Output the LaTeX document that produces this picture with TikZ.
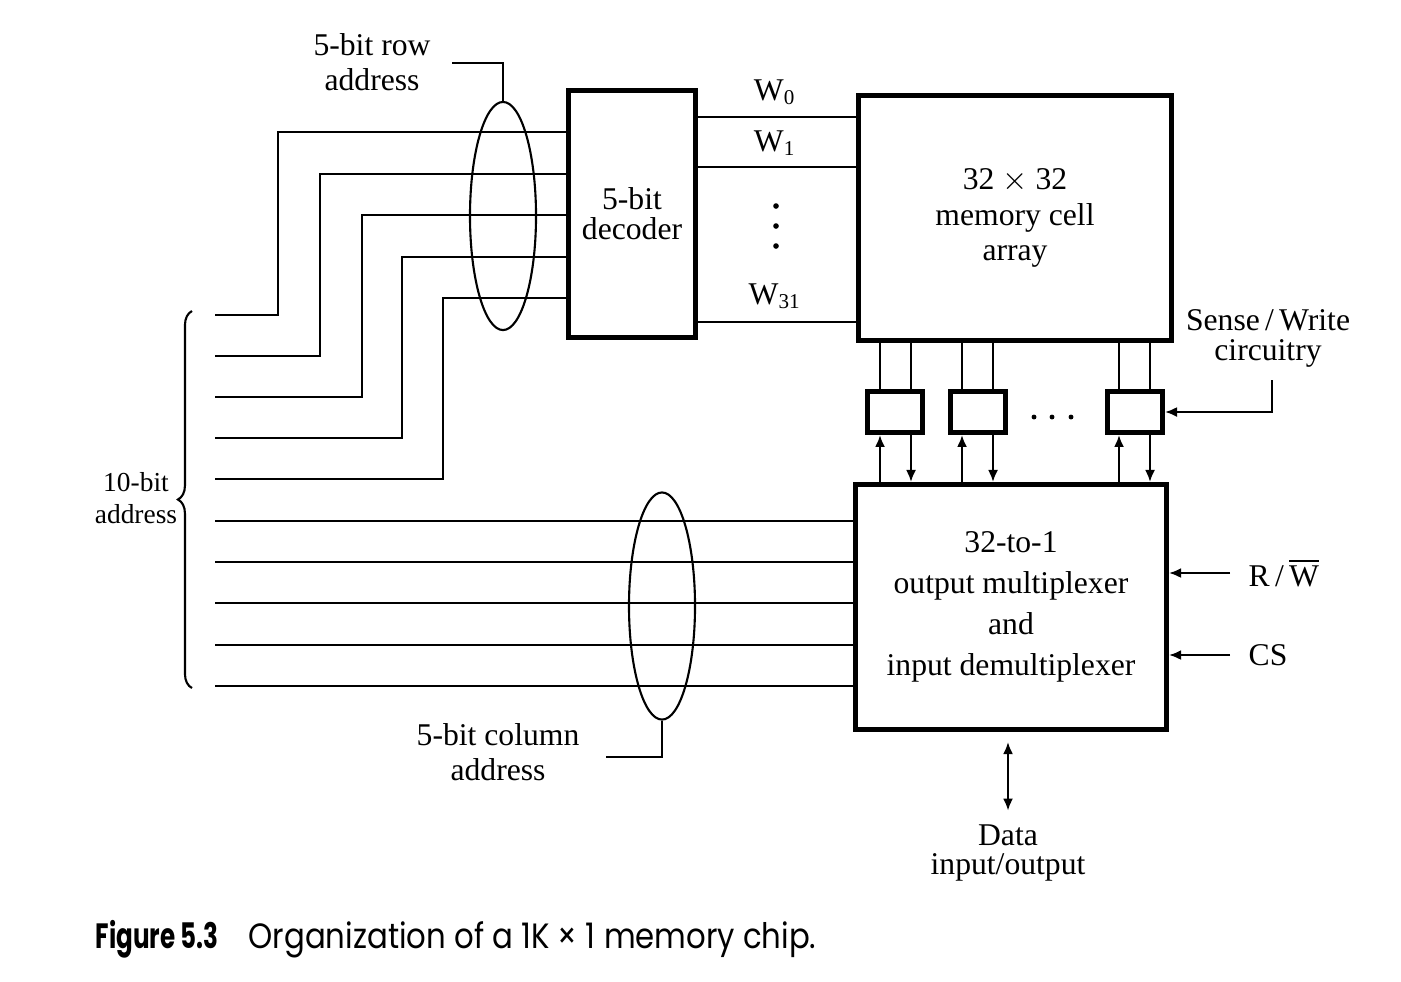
\documentclass[tikz,border=0pt]{standalone}
\usepackage{fontspec}
\usepackage{amsmath}
\setmainfont{Liberation Serif}
\newfontfamily\capfont{Poppins}
\usetikzlibrary{arrows.meta, decorations.pathreplacing, shapes.geometric}

\begin{document}
\begin{tikzpicture}[x=0.01cm, y=-0.01cm,
        every node/.style={font=\fontsize{9}{10}\selectfont, inner sep=0pt},
        wire/.style={line width=0.6pt},
        blk/.style={draw, line width=1.4pt, align=center},
        swbox/.style={draw, line width=1.4pt, minimum width=0.55cm, minimum height=0.41cm},
        tip/.style={wire, -{Latex[length=1.2mm, width=1mm]}},
        bundle/.style={draw, ellipse, line width=0.6pt}]
      \useasboundingbox (0,0) rectangle (1401,981);
      % blocks
      \node[blk, minimum width=1.27cm, minimum height=2.47cm] (dec) at (632,214) {5-bit\\[-1.5pt]decoder};
      \node[blk, minimum width=3.12cm, minimum height=2.45cm] (mem) at (1015,218) {32 $\times$ 32\\memory cell\\array};
      \node[blk, minimum width=3.11cm, minimum height=2.45cm] (mux) at (1011,607) {32-to-1\\[1.7pt]output multiplexer\\[1.7pt]and\\[1.7pt]input demultiplexer};
      % word lines
      \foreach \yv in {117,167,322}
        \draw[wire] (dec.east |- 0,\yv) -- (mem.west |- 0,\yv);
      \node (w0) at (775,92) {W\textsubscript{0}};
      \node (w1) at (775,143) {W\textsubscript{1}};
      \node (w31) at (775,296) {W\textsubscript{31}};
      \foreach \yy in {206,226,246}
        \fill (776,\yy) circle (0.8pt);
      % address lines
      \foreach \i/\ya/\xv/\yb in {0/315/278/132, 1/356/320/174, 2/397/362/215, 3/438/402/257, 4/479/443/298} {
        \coordinate (a\i) at (215,\ya);
        \draw[wire] (a\i) -- (\xv,\ya) -- (\xv,\yb) -- (dec.west |- 0,\yb);
      }
      \foreach \i/\ya in {5/521, 6/562, 7/603, 8/645, 9/686} {
        \coordinate (a\i) at (215,\ya);
        \draw[wire] (a\i) -- (mux.west |- a\i);
      }
      \draw[wire, decorate, decoration={brace, amplitude=4pt}] (192,688) -- (192,311);
      \node[align=center, font=\fontsize{7.8}{9}\selectfont] (addr) at (136,498) {10-bit\\address};
      % bundles
      \node[bundle, minimum width=0.66cm, minimum height=2.28cm] (rowbus) at (503,216) {};
      \node[bundle, minimum width=0.66cm, minimum height=2.27cm] (colbus) at (662,606) {};
      \node[align=center] (rowlbl) at (372,62) {5-bit row\\address};
      \coordinate (rowend) at (452,63);
      \draw[wire] (rowbus.north) |- (rowend);
      \node[align=center] (collbl) at (498,752) {5-bit column\\address};
      \coordinate (colend) at (606,757);
      \draw[wire] (colbus.south) |- (colend);
      % sense/write circuits
      \foreach \i/\cx/\xa/\xb in {1/895/880/911, 2/978/962/993, 3/1135/1119/1150} {
        \node[swbox] (sw\i) at (\cx,412) {};
        \coordinate (xa) at (\xa,0);
        \coordinate (xb) at (\xb,0);
        \draw[wire] (xa |- mem.south) -- (xa |- sw\i.north);
        \draw[wire] (xb |- mem.south) -- (xb |- sw\i.north);
        \draw[tip] (xa |- mux.north) -- (xa |- sw\i.south);
        \draw[tip] (xb |- sw\i.south) -- (xb |- mux.north);
      }
      \foreach \xx in {1034,1052,1071}
        \fill (\xx,417) circle (0.7pt);
      \node[align=center] (swlbl) at (1268,338) {Sense\,/\,Write\\[-1.5pt]circuitry};
      \coordinate (swend) at (1272,380);
      \draw[tip] (swend) |- (sw3.east);
      % control and data
      \node[anchor=west] (rwlbl) at (1248,573) {R\,/\,$\overline{\mbox{W}}$};
      \coordinate (rwend) at (1230,573);
      \draw[tip] (rwend) -- (mux.east |- rwend);
      \node[anchor=west] (cslbl) at (1248,655) {CS};
      \coordinate (csend) at (1230,655);
      \draw[tip] (csend) -- (mux.east |- csend);
      \node[align=center] (datalbl) at (1008,853) {Data\\[-1.5pt]input/output};
      \draw[wire, {Latex[length=1.2mm, width=1mm]}-{Latex[length=1.2mm, width=1mm]},
            shorten <=0.1cm, shorten >=0.13cm] (mux.south -| datalbl.north) -- (datalbl.north);
      % caption
      \node[anchor=base west, font=\capfont\bfseries\fontsize{10}{11}\selectfont] (fig) at (95,948) {\scalebox{0.7}[1]{Figure 5.3}};
      \node[anchor=base west, font=\capfont\fontsize{10}{11}\selectfont] (cap) at (248,948) {\scalebox{0.875}[1]{Organization of a 1K × 1 memory chip.}};
    \end{tikzpicture}
\end{document}
